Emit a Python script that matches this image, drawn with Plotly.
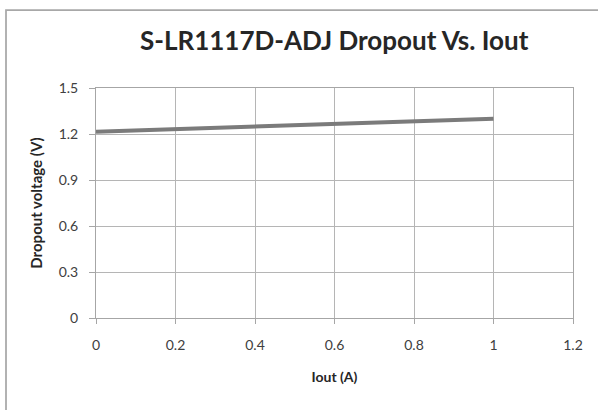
import plotly.graph_objects as go

# Data
iout_a = [0.0, 0.2, 0.4, 0.6, 0.8, 1.0]
dropout_v = [1.215, 1.232, 1.249, 1.266, 1.283, 1.300]

x_ticks = [0, 0.2, 0.4, 0.6, 0.8, 1, 1.2]
x_tick_labels = ["0", "0.2", "0.4", "0.6", "0.8", "1", "1.2"]
y_ticks = [0, 0.3, 0.6, 0.9, 1.2, 1.5]
y_tick_labels = ["0", "0.3", "0.6", "0.9", "1.2", "1.5"]

title_text = "S-LR1117D-ADJ Dropout Vs. Iout"
x_title = "Iout (A)"
y_title = "Dropout voltage (V)"
section_heading = "Dropout Voltage"

W, H = 598, 410
L, R, T, B = 96, 25, 88, 92
pw, ph = W - L - R, H - T - B

def px_x(px):
    return (px - L) / pw

def px_y(py):
    return (H - B - py) / ph

FONT = "Lato"
grid_c = "#b5b5b5"
axis_c = "#a6a6a6"
text_c = "#404040"

fig = go.Figure()
fig.add_trace(go.Scatter(
    x=iout_a, y=dropout_v, mode="lines",
    line=dict(color="#7b7b7b", width=4),
    showlegend=False, hoverinfo="skip",
))

fig.update_layout(
    width=W, height=H,
    margin=dict(l=L, r=R, t=T, b=B, pad=0),
    paper_bgcolor="white", plot_bgcolor="white",
    font=dict(family=FONT, color=text_c),
    showlegend=False,
    xaxis=dict(
        range=[0, 1.2], tickvals=x_ticks, ticktext=x_tick_labels,
        showgrid=True, gridcolor=grid_c, gridwidth=1,
        showline=True, linecolor=axis_c, linewidth=1, mirror=True,
        ticks="outside", ticklen=5, tickcolor=axis_c, tickwidth=1,
        zeroline=False, tickfont=dict(size=14, color=text_c, family=FONT),
        ticklabelstandoff=9,
        title=dict(text="<b>" + x_title + "</b>", font=dict(size=14, color="#262626", family=FONT), standoff=20),
    ),
    yaxis=dict(
        range=[0, 1.5], tickvals=y_ticks, ticktext=y_tick_labels,
        showgrid=True, gridcolor=grid_c, gridwidth=1,
        showline=True, linecolor=axis_c, linewidth=1, mirror=True,
        ticks="outside", ticklen=6, tickcolor=axis_c, tickwidth=1,
        zeroline=False, tickfont=dict(size=14, color=text_c, family=FONT),
        ticklabelstandoff=8,
        title=dict(text="<b>" + y_title + "</b>", font=dict(size=15, color="#262626", family=FONT), standoff=12),
    ),
    annotations=[
        dict(text="<b>" + title_text + "</b>", xref="paper", yref="paper",
             x=px_x(334), y=px_y(40), xanchor="center", yanchor="middle",
             showarrow=False, font=dict(size=26, color="#262626", family=FONT)),
        dict(text="<b>" + section_heading + "</b>", xref="paper", yref="paper",
             x=px_x(4), y=px_y(4.5), xanchor="left", yanchor="bottom",
             showarrow=False, font=dict(size=27, color="#000000", family=FONT)),
    ],
    shapes=[
        dict(type="rect", xref="paper", yref="paper",
             x0=px_x(6), y0=px_y(440), x1=px_x(640), y1=px_y(10),
             line=dict(color="#a8a8a8", width=1.75), fillcolor="rgba(0,0,0,0)", layer="below"),
    ],
)

fig.write_html("out.html", config={"displayModeBar": False},
               post_script="document.body.style.margin='0px';document.body.style.overflow='hidden';")
